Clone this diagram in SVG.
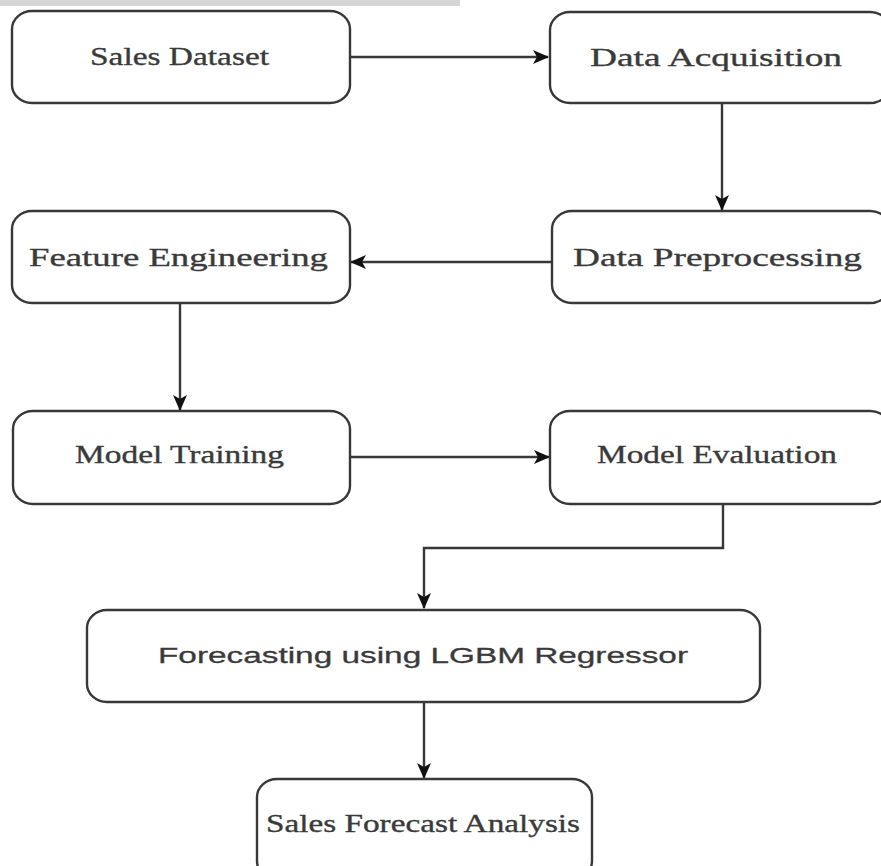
<svg xmlns="http://www.w3.org/2000/svg" width="881" height="866" viewBox="0 0 881 866">
  <style>
    .box { fill: #ffffff; stroke: #383838; stroke-width: 2.4; }
    .lbl { font-family: "Liberation Serif", "Times New Roman", serif; font-size: 26px; fill: #3a3a3a; stroke: #3a3a3a; stroke-width: 0.35; }
    .lbl-sans { font-family: "Liberation Sans", Arial, sans-serif; font-size: 22px; fill: #3a3a3a; stroke: #3a3a3a; stroke-width: 0.3; }
    .edge { fill: none; stroke: #383838; stroke-width: 2.4; }
  </style>
  <defs>
    <marker id="arrow" markerWidth="16" markerHeight="14" refX="15" refY="7" orient="auto" markerUnits="userSpaceOnUse">
      <path d="M0,0 L16,7 L0,14 L4,7 Z" fill="#111111"/>
    </marker>
  </defs>

  <rect x="0" y="0" width="460" height="6" fill="#d6d6d6"/>

  <g id="connectors">
    <path class="edge" d="M350,57 H548" marker-end="url(#arrow)"/>
    <path class="edge" d="M722,103 V210" marker-end="url(#arrow)"/>
    <path class="edge" d="M552,262 H351" marker-end="url(#arrow)"/>
    <path class="edge" d="M180,303 V410" marker-end="url(#arrow)"/>
    <path class="edge" d="M350,457 H549" marker-end="url(#arrow)"/>
    <path class="edge" d="M723,504 V548 H424 V608" marker-end="url(#arrow)"/>
    <path class="edge" d="M424,702 V778" marker-end="url(#arrow)"/>
  </g>

  <g id="sales-dataset">
    <rect class="box" x="12" y="11" width="338" height="92" rx="20" ry="18"/>
    <text class="lbl" x="90" y="65" textLength="179" lengthAdjust="spacingAndGlyphs">Sales Dataset</text>
  </g>

  <g id="data-acquisition">
    <rect class="box" x="550" y="12" width="340" height="91" rx="20" ry="18"/>
    <text class="lbl" x="590" y="66" textLength="252" lengthAdjust="spacingAndGlyphs">Data Acquisition</text>
  </g>

  <g id="feature-engineering">
    <rect class="box" x="12" y="211" width="338" height="92" rx="20" ry="18"/>
    <text class="lbl" x="29" y="266" textLength="299" lengthAdjust="spacingAndGlyphs">Feature Engineering</text>
  </g>

  <g id="data-preprocessing">
    <rect class="box" x="552" y="211" width="338" height="92" rx="20" ry="18"/>
    <text class="lbl" x="573" y="266" textLength="289" lengthAdjust="spacingAndGlyphs">Data Preprocessing</text>
  </g>

  <g id="model-training">
    <rect class="box" x="13" y="411" width="337" height="93" rx="20" ry="18"/>
    <text class="lbl" x="75" y="463" textLength="209" lengthAdjust="spacingAndGlyphs">Model Training</text>
  </g>

  <g id="model-evaluation">
    <rect class="box" x="550" y="411" width="340" height="93" rx="20" ry="18"/>
    <text class="lbl" x="597" y="463" textLength="240" lengthAdjust="spacingAndGlyphs">Model Evaluation</text>
  </g>

  <g id="forecasting">
    <rect class="box" x="87" y="610" width="673" height="92" rx="20" ry="18"/>
    <text class="lbl-sans" x="158" y="663" textLength="530" lengthAdjust="spacingAndGlyphs">Forecasting using LGBM Regressor</text>
  </g>

  <g id="sales-forecast-analysis">
    <rect class="box" x="257" y="779" width="335" height="100" rx="20" ry="18"/>
    <text class="lbl" x="266" y="832" textLength="314" lengthAdjust="spacingAndGlyphs">Sales Forecast Analysis</text>
  </g>
</svg>
